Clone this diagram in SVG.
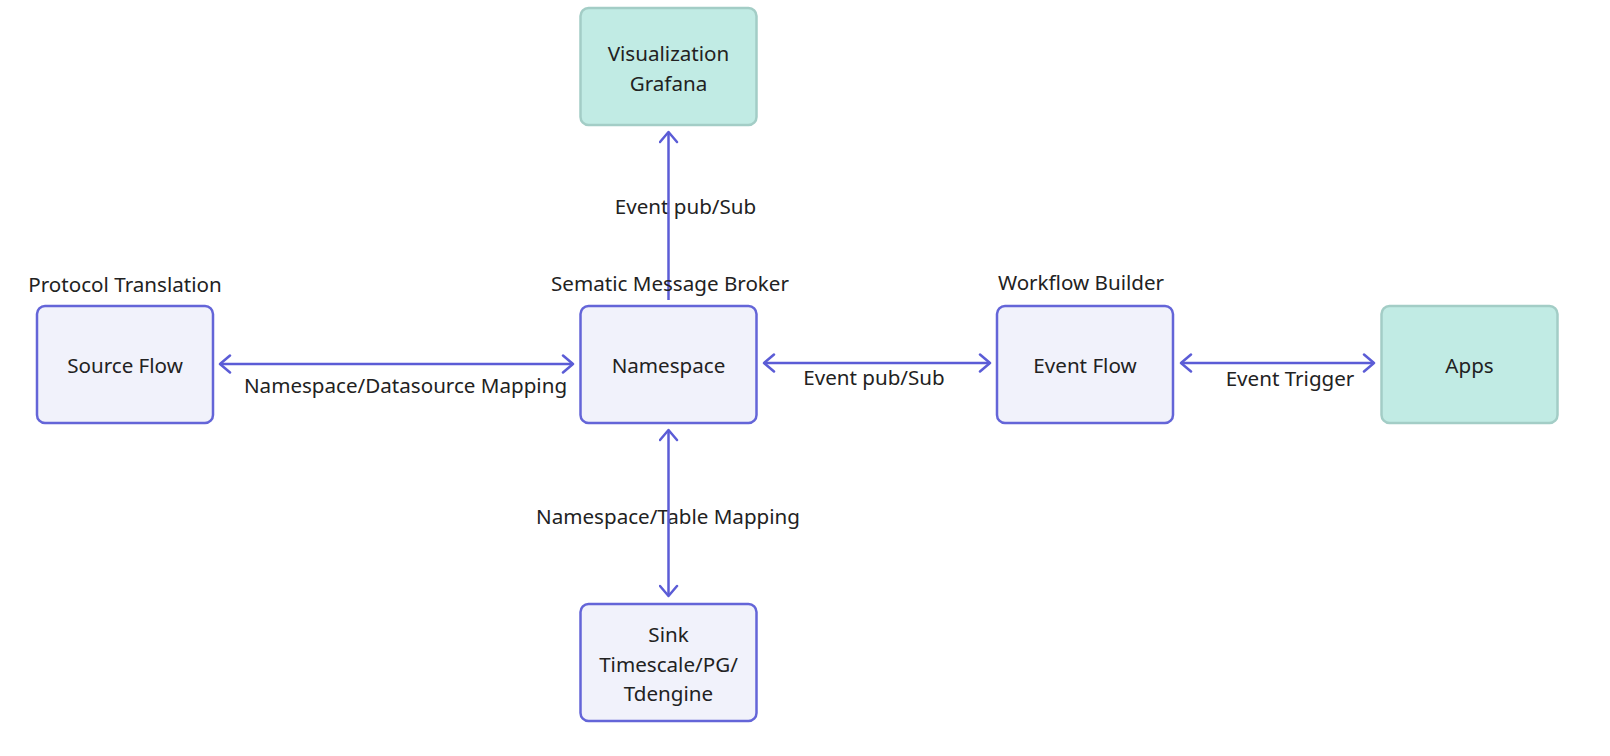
<svg xmlns="http://www.w3.org/2000/svg" width="1610" height="756" viewBox="0 0 1610 756">
<style>
text{font-family:"Noto Sans","Liberation Sans",sans-serif;font-size:20.6px;fill:#222222;text-anchor:middle}
.n{fill:#f1f2fb;stroke:#6465d8;stroke-width:2.5}
.t{fill:#c1ebe4;stroke:#a3cdc6;stroke-width:2.5}
.e{fill:none;stroke:#5b5cd6;stroke-width:2.5}
</style>
<defs>
<marker id="ah" viewBox="0 0 14 20" refX="12" refY="10" markerWidth="14" markerHeight="20" markerUnits="userSpaceOnUse" orient="auto-start-reverse">
<path d="M2,1.5 L12,10 L2,18.5" fill="none" stroke="#5b5cd6" stroke-width="2.5" stroke-linecap="round" stroke-linejoin="round"/>
</marker>
</defs>
<rect width="1610" height="756" fill="#ffffff"/>
<g id="edge-labels">
<text x="685.5" y="214">Event pub/Sub</text>
<text x="405.5" y="393">Namespace/Datasource Mapping</text>
<text x="874" y="385">Event pub/Sub</text>
<text x="1290" y="386">Event Trigger</text>
<text x="668" y="524">Namespace/Table Mapping</text>
</g>
<g id="connectors">
<path class="e" d="M668.5,300 L668.5,132" marker-end="url(#ah)"/>
<path class="e" d="M220,364 L573,364" marker-start="url(#ah)" marker-end="url(#ah)"/>
<path class="e" d="M764,363 L990,363" marker-start="url(#ah)" marker-end="url(#ah)"/>
<path class="e" d="M1181,363 L1374,363" marker-start="url(#ah)" marker-end="url(#ah)"/>
<path class="e" d="M668.5,430 L668.5,596" marker-start="url(#ah)" marker-end="url(#ah)"/>
</g>
<g id="visualization">
<rect class="t" x="580.5" y="8" width="176" height="117" rx="8"/>
<text x="668.5" y="61">Visualization</text>
<text x="668.5" y="91">Grafana</text>
</g>
<g id="source-flow">
<text x="125" y="292">Protocol Translation</text>
<rect class="n" x="37" y="306" width="176" height="117" rx="8"/>
<text x="125" y="373">Source Flow</text>
</g>
<g id="namespace">
<text x="670" y="291">Sematic Message Broker</text>
<rect class="n" x="580.5" y="306" width="176" height="117" rx="8"/>
<text x="668.5" y="373">Namespace</text>
</g>
<g id="event-flow">
<text x="1081" y="290">Workflow Builder</text>
<rect class="n" x="997" y="306" width="176" height="117" rx="8"/>
<text x="1085" y="373">Event Flow</text>
</g>
<g id="apps">
<rect class="t" x="1381.5" y="306" width="176" height="117" rx="8"/>
<text x="1469.5" y="373">Apps</text>
</g>
<g id="sink">
<rect class="n" x="580.5" y="604" width="176" height="117" rx="8"/>
<text x="668.5" y="642">Sink</text>
<text x="668.5" y="672">Timescale/PG/</text>
<text x="668.5" y="701">Tdengine</text>
</g>
</svg>
